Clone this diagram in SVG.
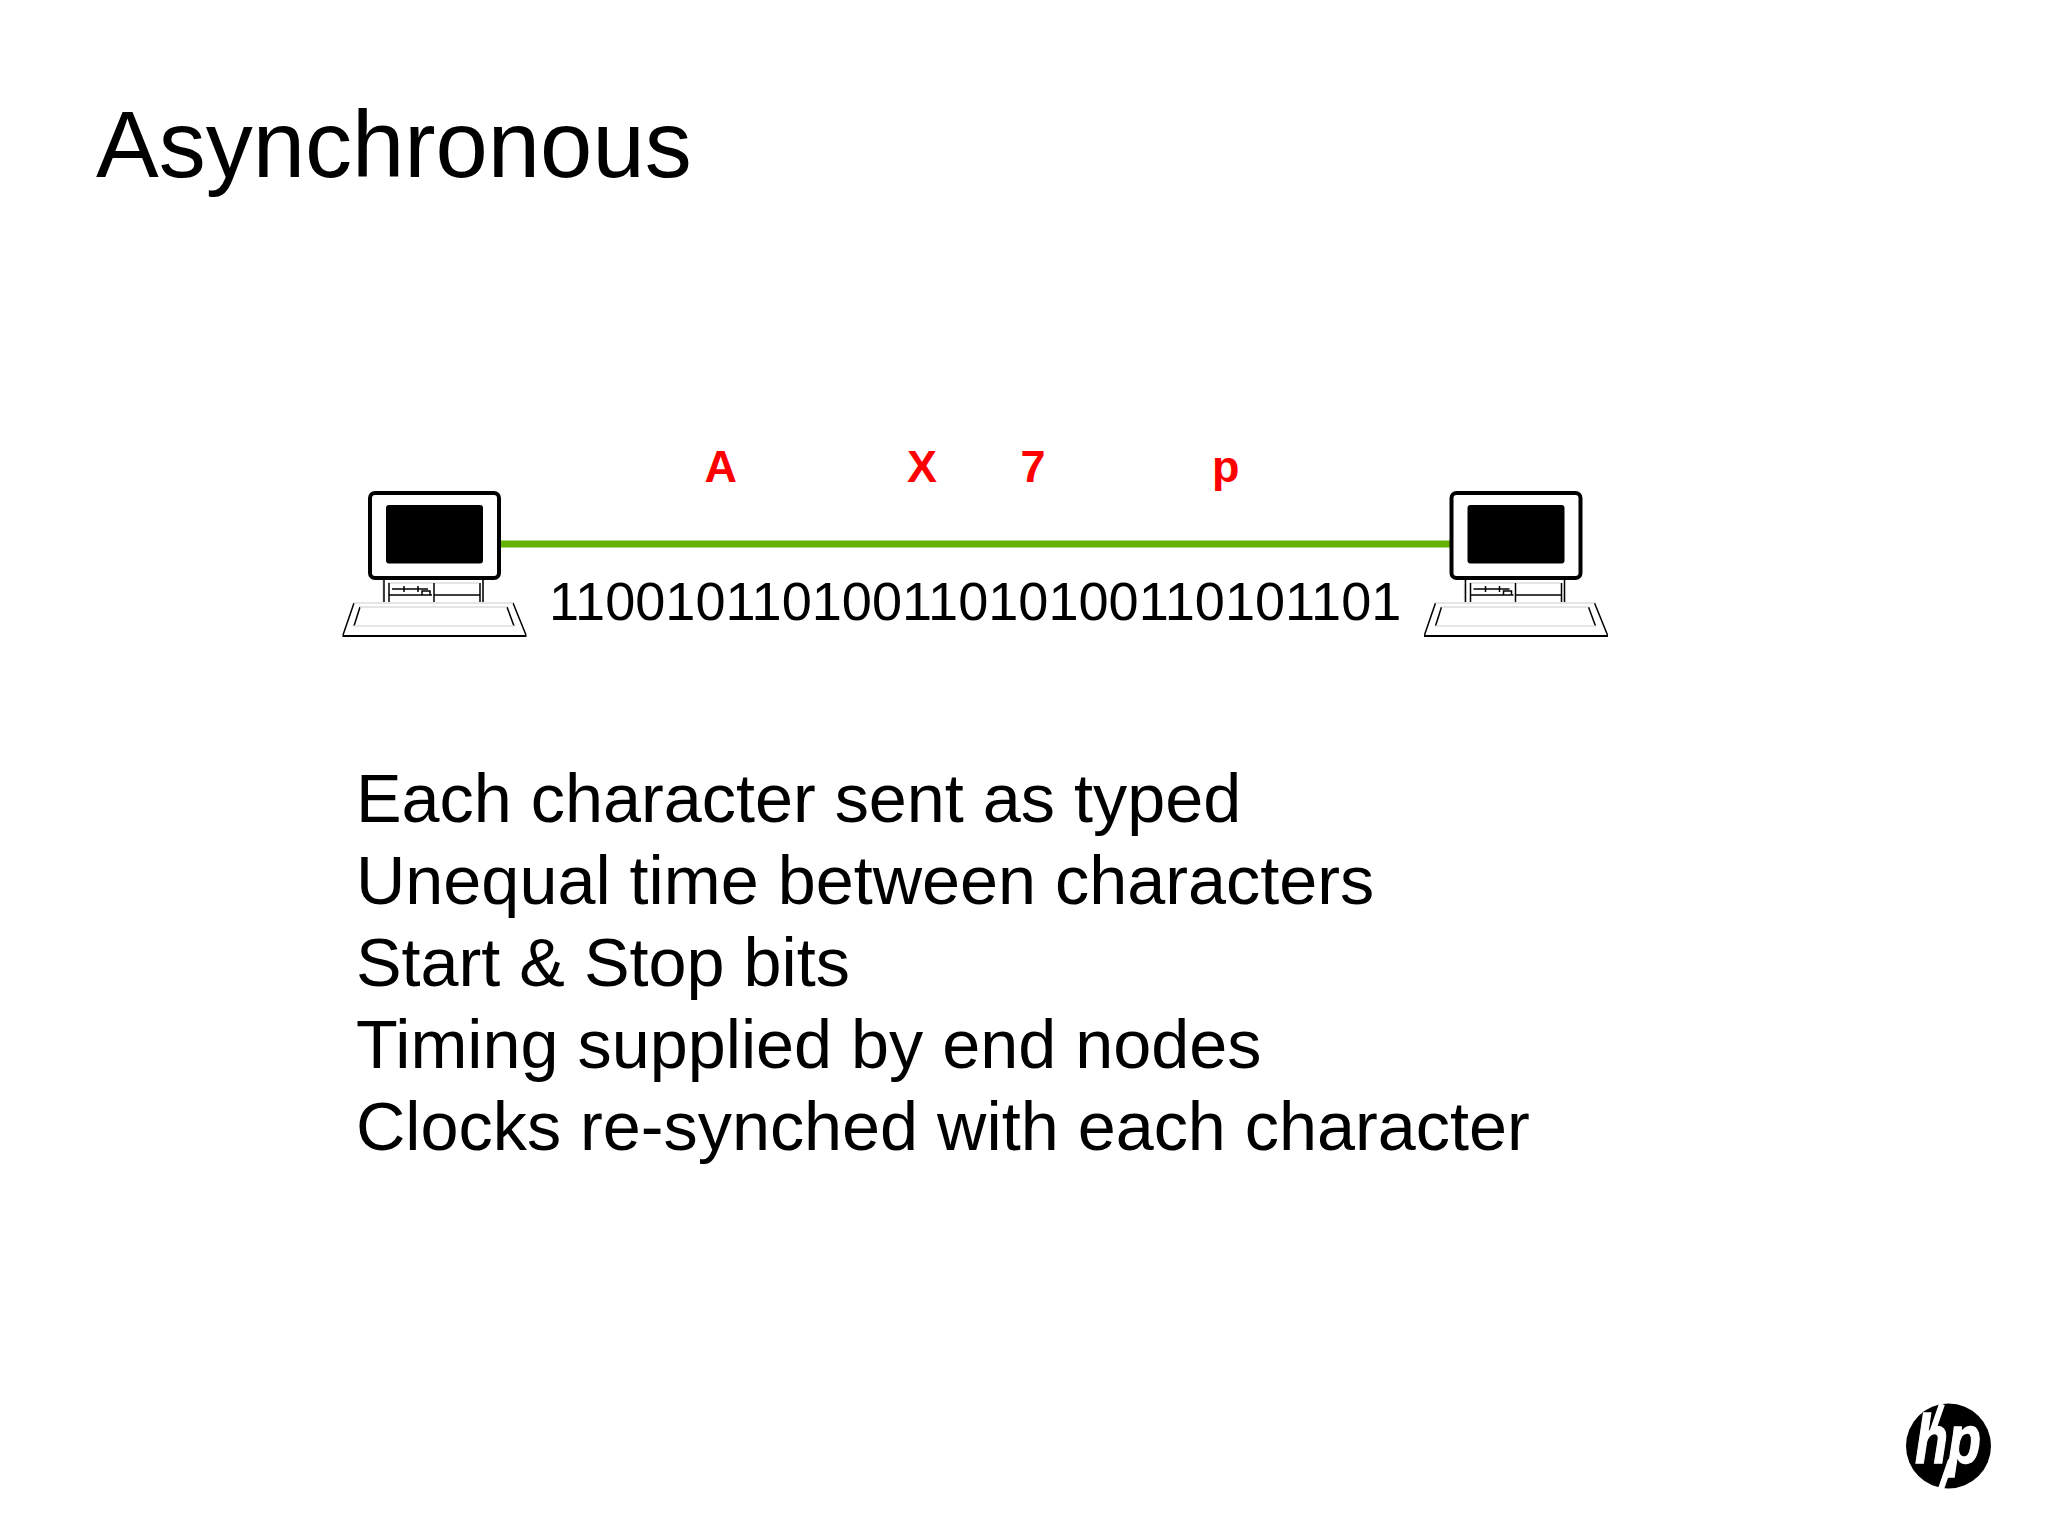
<svg xmlns="http://www.w3.org/2000/svg" width="2048" height="1536" viewBox="0 0 2048 1536">
<style>
text{font-family:"Liberation Sans",Arial,sans-serif;fill:#000}
.body{font-size:68.350px}
.red{font-size:45px;font-weight:700;fill:#f00}
.thick{fill:#fff;stroke:#000;stroke-width:4}
.thin{fill:none;stroke:#000;stroke-width:1.500}
.pale{fill:none;stroke:#ddd;stroke-width:1.500}
</style>
<defs>
<g id="pc">
<path class="pale" d="M54 99V124M154 99V124M59 104H150"/>
<path class="thin" d="M55 99V123M154 99V123M60 104V123M105 104V123M151 104V123M60 116H103M105 116H151M63 110H99M75 107V113M89 107V113"/>
<path class="thin" d="M93 116V112H101V116"/>
<rect class="thick" x="41" y="14" width="129" height="85" rx="5"/>
<rect x="57" y="26" width="97" height="58.500" rx="3"/>
<path d="M25 124H184L197 156H14Z" fill="#fff" stroke="none"/>
<path class="thin" d="M25 124L14 156M184 124L197 156M31 128L25 147M178 128L185 147"/>
<path d="M13.500 157H197.500" stroke="#000" stroke-width="2"/>
<path class="pale" d="M25 124H184M31 128H178M25 147H185"/>
</g>
</defs>
<text id="title" x="96" y="177" font-size="94px">Asynchronous</text>
<g id="connectors"><line id="link" x1="500" y1="544" x2="1451" y2="544" stroke="#66b300" stroke-width="7"/></g>
<g id="pc-left" transform="translate(329,479)"><use href="#pc"/></g>
<g id="pc-right" transform="translate(1410.500,479)"><use href="#pc"/></g>
<g id="labels">
<text class="red" x="704.500" y="482">A</text>
<text class="red" x="907" y="482">X</text>
<text class="red" x="1020.500" y="482">7</text>
<text class="red" x="1212" y="482">p</text>
<text x="549" y="620" font-size="54.100px">11001011010011010100110101101</text>
</g>
<g id="body">
<text class="body" x="356" y="822">Each character sent as typed</text>
<text class="body" x="356" y="904">Unequal time between characters</text>
<text class="body" x="356" y="986">Start &amp; Stop bits</text>
<text class="body" x="356" y="1068">Timing supplied by end nodes</text>
<text class="body" x="356" y="1150">Clocks re-synched with each character</text>
</g>
<g id="logo">
<circle cx="1948.500" cy="1446" r="42.500"/>
<text transform="translate(1915,1463) scale(1,1.28)" font-size="54px" font-weight="700" font-style="italic" style="fill:#fff;stroke:#fff;stroke-width:1">hp</text>
<path d="M1942 1404L1933 1430M1951 1460L1941 1489" stroke="#fff" stroke-width="6"/>
</g>
</svg>
